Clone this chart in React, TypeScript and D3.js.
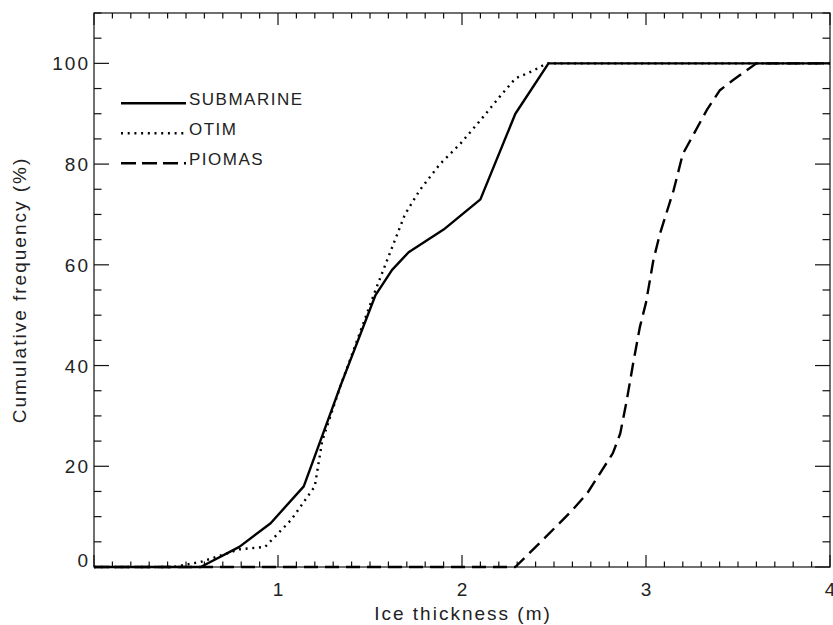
import React from "react";
import * as d3 from "d3";

// Ice thickness (m) and cumulative frequency (%) for each source
const submarineX = [0, 0.58, 0.79, 0.96, 1.14, 1.34, 1.53, 1.62, 1.71, 1.9, 2.1, 2.29, 2.47, 4];
const submarineY = [0, 0, 4, 8.7, 16, 36, 54, 59, 62.5, 67, 73, 90, 100, 100];

const otimX = [0, 0.43, 0.58, 0.79, 0.93, 1.07, 1.2, 1.24, 1.34, 1.53, 1.69, 1.77, 1.88, 1.99, 2.1, 2.21, 2.29, 2.39, 2.46, 4];
const otimY = [0, 0, 1, 3.5, 4, 9.3, 16, 25, 36, 55, 70, 74.8, 80, 84, 88.7, 93.6, 97, 98.6, 100, 100];

const piomasX = [0, 2.29, 2.44, 2.6, 2.68, 2.82, 2.86, 2.895, 2.93, 2.967, 3.0, 3.04, 3.076, 3.15, 3.2, 3.26, 3.33, 3.4, 3.47, 3.6, 4];
const piomasY = [0, 0, 5.4, 11.3, 14.6, 22.6, 26.5, 33, 40.4, 47.7, 52.5, 60.9, 66.2, 74.8, 82, 86, 90.7, 94.6, 96.6, 100, 100];

const seriesNames = ["SUBMARINE", "OTIM", "PIOMAS"];
const xTickLabels = ["1", "2", "3", "4"];
const yTickLabels = ["0", "20", "40", "60", "80", "100"];

const W = 833;
const H = 625;
const left = 94;
const right = 830;
const top = 13;
const bottom = 567;

const FONT = "'Liberation Sans', Arial, Helvetica, sans-serif";

export default function App() {
  const x = d3.scaleLinear().domain([0, 4]).range([left, right]);
  const y = d3.scaleLinear().domain([0, 110]).range([bottom, top]);

  const line = d3
    .line<[number, number]>()
    .x((d) => x(d[0]))
    .y((d) => y(d[1]));

  const zip = (xs: number[], ys: number[]) => xs.map((v, i) => [v, ys[i]] as [number, number]);

  const series = [
    { name: seriesNames[0], pts: zip(submarineX, submarineY), dash: undefined as string | undefined },
    { name: seriesNames[1], pts: zip(otimX, otimY), dash: "2,4.7" },
    { name: seriesNames[2], pts: zip(piomasX, piomasY), dash: "14,7" },
  ];

  const xMinor = d3.range(0, 41).map((i) => i / 10);
  const xMajor = xTickLabels.map(Number);
  const yMinor = d3.range(0, 23).map((i) => i * 5);
  const yMajor = yTickLabels.map(Number);

  const legendY = [103.3, 133.3, 163.3];

  return (
    <svg
      width={W}
      height={H}
      style={{ position: "absolute", left: 0, top: 0, background: "#fff" }}
      fontFamily={FONT}
    >
      <rect width={W} height={H} fill="#fff" />

      {/* x ticks, bottom and top, pointing inward */}
      {xMinor.map((v, i) => {
        const major = Math.abs(v - Math.round(v)) < 1e-6;
        const len = major ? 12 : 5.5;
        return (
          <g key={"xt" + i} stroke="#111" strokeWidth={1.2}>
            <line x1={x(v)} x2={x(v)} y1={bottom} y2={bottom - len} />
            <line x1={x(v)} x2={x(v)} y1={top} y2={top + len} />
          </g>
        );
      })}

      {/* y ticks, left and right, pointing inward */}
      {yMinor.map((v, i) => {
        const major = v % 20 === 0;
        const len = major ? 15 : 7.5;
        return (
          <g key={"yt" + i} stroke="#111" strokeWidth={1.2}>
            <line x1={left} x2={left + len} y1={y(v)} y2={y(v)} />
            <line x1={right} x2={right - len} y1={y(v)} y2={y(v)} />
          </g>
        );
      })}

      {/* frame */}
      <rect
        x={left}
        y={top}
        width={right - left}
        height={bottom - top}
        fill="none"
        stroke="#111"
        strokeWidth={1.2}
      />

      {/* tick labels */}
      {xMajor.map((v, i) => (
        <text
          key={"xl" + i}
          x={x(v) + 1}
          y={596}
          textAnchor="middle"
          fontSize={19}
          letterSpacing={2}
          fill="#222"
        >
          {xTickLabels[i]}
        </text>
      ))}
      {yMajor.map((v, i) => (
        <text
          key={"yl" + i}
          x={90}
          y={Math.min(y(v), bottom - 7) + 7}
          textAnchor="end"
          fontSize={19}
          letterSpacing={2}
          fill="#222"
        >
          {yTickLabels[i]}
        </text>
      ))}

      {/* axis titles */}
      <text
        x={(left + right) / 2 + 1}
        y={620}
        textAnchor="middle"
        fontSize={19}
        letterSpacing={2}
        fill="#222"
      >
        Ice thickness (m)
      </text>
      <text
        transform={`translate(26,${(top + bottom) / 2}) rotate(-90)`}
        textAnchor="middle"
        fontSize={19}
        letterSpacing={2}
        fill="#222"
      >
        Cumulative frequency (%)
      </text>

      {/* curves */}
      {series.map((s) => (
        <path
          key={s.name}
          d={line(s.pts) || ""}
          fill="none"
          stroke="#000"
          strokeWidth={2.4}
          strokeDasharray={s.dash}
          strokeLinejoin="round"
        />
      ))}

      {/* legend */}
      {series.map((s, i) => (
        <g key={"lg" + i}>
          <line
            x1={121}
            x2={186}
            y1={legendY[i]}
            y2={legendY[i]}
            stroke="#000"
            strokeWidth={2.4}
            strokeDasharray={i === 2 ? "15,6" : s.dash}
          />
          <text x={189} y={legendY[i] + 1.5} fontSize={17} letterSpacing={1.5} fill="#222">
            {s.name}
          </text>
        </g>
      ))}
    </svg>
  );
}
